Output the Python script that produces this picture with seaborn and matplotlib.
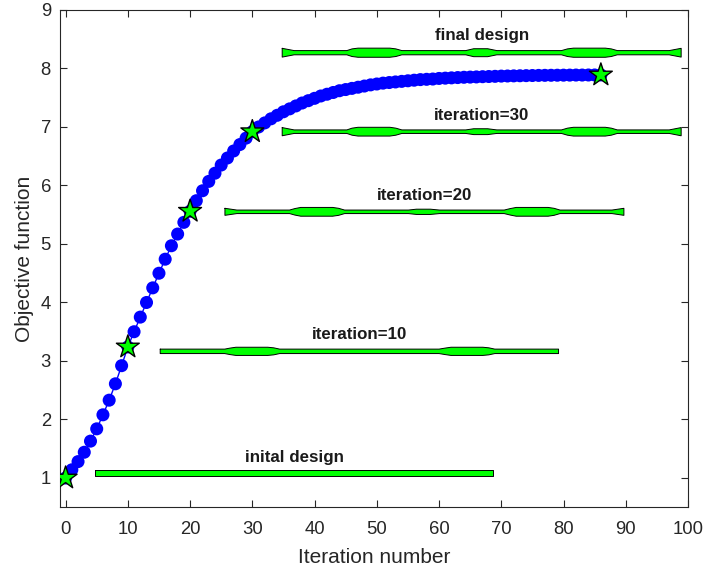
import numpy as np
import pandas as pd
import matplotlib
matplotlib.use("Agg")
import matplotlib.pyplot as plt
import seaborn as sns

# objective function per iteration
objective = [
    1.00, 1.14, 1.28, 1.44, 1.63, 1.84, 2.08, 2.33, 2.61, 2.92,
    3.24, 3.50, 3.75, 4.00, 4.25, 4.50, 4.74, 4.97, 5.17, 5.37,
    5.56, 5.74, 5.91, 6.07, 6.21, 6.35, 6.47, 6.59, 6.70, 6.81,
    6.92, 7.00, 7.07, 7.14, 7.20, 7.26, 7.31, 7.36, 7.41, 7.45,
    7.49, 7.53, 7.56, 7.59, 7.62, 7.64, 7.66, 7.68, 7.70, 7.72,
    7.735, 7.75, 7.76, 7.77, 7.78, 7.79, 7.80, 7.81, 7.815, 7.82,
    7.83, 7.835, 7.84, 7.845, 7.85, 7.853, 7.856, 7.86, 7.863, 7.866,
    7.87, 7.872, 7.874, 7.876, 7.878, 7.88, 7.882, 7.883, 7.884, 7.885,
    7.886, 7.887, 7.888, 7.888, 7.889, 7.889, 7.89,
]
star_iters = [0, 10, 20, 30, 86]

# beam designs: label, left end, right end, vertical position
design_labels = ["inital design", "iteration=10", "iteration=20", "iteration=30", "final design"]
design_start = [4.7, 15.2, 25.6, 34.8, 34.8]
design_end = [68.7, 79.2, 89.7, 98.9, 98.9]
design_y = [1.085, 3.165, 5.55, 6.92, 8.27]
label_y = [1.35, 3.46, 5.83, 7.2, 8.56]

# half thickness along the beam, at fractions of its length
stations = [0, .03, .162, .175, .19, .27, .285, .30, .46, .48, .515, .538,
            .70, .715, .73, .81, .825, .84, .97, 1]
thick_initial = [.05] * 20
thick_10 = [.038, .038, .038, .055, .07, .07, .06, .038, .038, .038, .038, .038,
            .038, .055, .07, .07, .06, .038, .038, .038]
thick_20 = [.06, .03, .03, .055, .075, .075, .06, .03, .03, .045, .045, .03,
            .03, .055, .075, .075, .06, .03, .03, .06]
thick_30 = [.07, .03, .03, .06, .075, .075, .06, .03, .03, .05, .05, .03,
            .03, .06, .075, .075, .06, .03, .03, .07]
thick_final = [.075, .036, .036, .065, .078, .078, .065, .036, .036, .068, .068, .036,
               .036, .065, .078, .078, .065, .036, .036, .075]
design_thick = [thick_initial, thick_10, thick_20, thick_30, thick_final]

sns.set_theme(style="ticks")
plt.rcParams["font.family"] = ["Liberation Sans", "DejaVu Sans"]

df = pd.DataFrame({"iteration": range(len(objective)), "objective": objective})
stars = df[df["iteration"].isin(star_iters)]

fig, ax = plt.subplots(figsize=(7.05, 5.69), dpi=100)
fig.subplots_adjust(left=60 / 705, right=688 / 705, top=1 - 10 / 569, bottom=1 - 507 / 569)

sns.lineplot(data=df, x="iteration", y="objective", color="#0000ff", linewidth=1, ax=ax)
sns.scatterplot(data=df, x="iteration", y="objective", color="#0000ff", s=88,
                linewidth=0, ax=ax, zorder=3)
sns.scatterplot(data=stars, x="iteration", y="objective", marker="*", color="#00ff00",
                edgecolor="black", linewidth=1, s=300, ax=ax, zorder=4)
# one size per point skips the marker shortcut, which rounds positions to whole pixels
for coll in ax.collections:
    coll.set_sizes(np.repeat(coll.get_sizes(), len(coll.get_offsets())))
    coll.set_snap(False)

frac = np.array(stations)
for label, x0, x1, yc, thick, ly in zip(design_labels, design_start, design_end,
                                        design_y, design_thick, label_y):
    xs = x0 + frac * (x1 - x0)
    hw = np.array(thick)
    ax.fill_between(xs, yc - hw, yc + hw, color="#00ff00", edgecolor="none", zorder=2)
    ax.plot(np.r_[xs, xs[::-1], xs[0]], np.r_[yc + hw, (yc - hw)[::-1], yc + hw[0]],
            color="black", linewidth=0.7, zorder=2)
    ax.text((x0 + x1) / 2, ly, label, ha="center", va="center", fontsize=12.2,
            fontweight="bold", color="#1a1a1a")

ax.set_xlim(-0.9, 100)
ax.set_ylim(0.504, 9)
ax.set_xticks(range(0, 101, 10))
ax.set_yticks(range(1, 10))
ax.set_xlabel("Iteration number", fontsize=15, color="#262626", labelpad=7.5)
ax.set_ylabel("Objective function", fontsize=15, color="#262626", labelpad=5)
ax.tick_params(direction="in", top=True, right=True, length=5, width=0.8, color="#262626",
               labelsize=13.3, labelcolor="#262626")
ax.tick_params(axis="x", pad=10)
ax.tick_params(axis="y", pad=6.5)
for spine in ax.spines.values():
    spine.set_visible(True)
    spine.set_color("#262626")
    spine.set_linewidth(0.8)

plt.savefig("out.png", dpi=100)
